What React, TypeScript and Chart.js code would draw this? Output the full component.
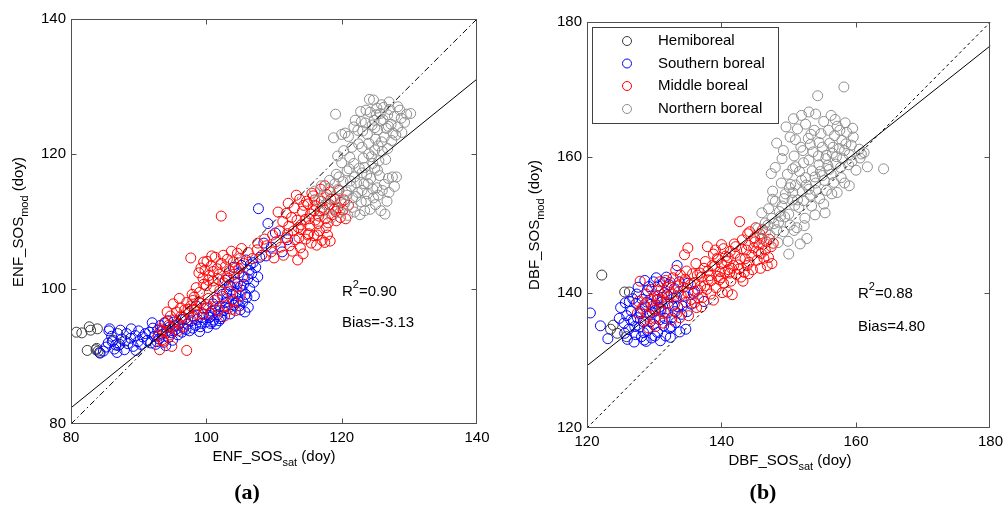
import React, { useEffect, useRef } from "react";
import { Chart, registerables } from "chart.js";
Chart.register(...registerables);

// ---------------- DATA ----------------
const SERIES_NAMES = ["Hemiboreal", "Southern boreal", "Middle boreal", "Northern boreal"];
const SERIES_COLORS = ["#3a3a3a", "#0000ff", "#ff0000", "#8e8e8e"];

const ENF_TICKS = [80, 100, 120, 140];
const DBF_TICKS = [120, 140, 160, 180];

const ENF_LINE_X = [80, 140];
const ENF_ONE_TO_ONE_Y = [80, 140];
const ENF_FIT_Y = [82.4, 131.1];
const DBF_LINE_X = [120, 180];
const DBF_ONE_TO_ONE_Y = [120, 180];
const DBF_FIT_Y = [129.2, 176.5];

const ENF_STATS = ["0.90", "-3.13"];
const DBF_STATS = ["0.88", "4.80"];

// flat [x, y, x, y, ...]
const ENF_HEMI = [
  80.8, 93.6, 81.6, 93.5, 82.7, 94.4, 82.9, 93.9, 83.9, 94.1, 82.4, 90.9, 83.7, 91.0,
  84.0, 90.8, 84.2, 90.6, 83.8, 91.2, 86.9, 93.4, 87.0, 91.6, 88.0, 92.3, 86.2, 92.4,
];

const ENF_SOUTH = [
  84.3, 90.5, 84.8, 90.8, 85.2, 91.4, 85.6, 93.8, 85.7, 94.1, 86.1, 92.2, 86.4, 91.1, 86.8, 90.6,
  87.2, 91.8, 87.5, 92.6, 87.9, 91.0, 88.2, 93.4, 88.4, 91.9, 88.8, 92.7, 89.2, 91.5, 89.5, 93.1,
  89.9, 92.2, 90.3, 91.8, 90.6, 92.9, 91.0, 93.4, 86.0, 93.0, 87.3, 93.9, 88.9, 94.1, 90.0, 93.8,
  85.5, 92.0, 86.6, 91.7, 89.6, 90.9,
  91.3, 92.4, 91.6, 93.6, 91.8, 92.0, 92.1, 94.2, 92.3, 93.0, 92.5, 91.8, 92.8, 93.9, 93.0, 92.6,
  93.2, 94.6, 93.5, 93.3, 93.7, 92.1, 93.9, 95.0, 94.1, 93.8, 94.4, 92.8, 94.6, 94.4, 94.9, 93.5,
  95.2, 95.1, 95.5, 94.0, 95.8, 93.2, 96.0, 94.8, 96.3, 95.5, 92.0, 95.0, 94.0, 91.6, 95.0, 92.4,
  96.6, 94.2, 96.9, 95.6, 97.2, 94.8, 97.5, 93.8, 97.8, 95.3, 98.1, 96.0, 98.4, 94.6, 98.7, 95.5,
  99.0, 93.7, 99.3, 94.9, 99.6, 96.3, 99.9, 95.1, 100.2, 94.3, 100.5, 95.8, 100.8, 96.7, 101.1, 95.4,
  101.4, 94.8, 101.7, 96.2, 102.0, 97.4, 102.3, 95.9, 102.6, 96.8, 102.9, 98.0, 103.2, 97.1, 103.5, 96.3,
  103.8, 98.5, 104.1, 97.6, 104.4, 99.3, 104.7, 98.2, 105.0, 96.9, 105.3, 99.8, 101.0, 97.8, 103.0, 99.5,
  100.0, 97.2, 98.5, 97.5, 101.6, 98.6, 102.4, 99.2, 103.4, 100.6, 100.6, 94.9, 101.9, 95.3, 99.4, 95.8,
  105.5, 100.7, 105.8, 99.2, 106.1, 101.5, 106.4, 100.1, 106.7, 102.3, 107.0, 101.0, 107.3, 103.2, 107.6, 101.8,
  104.2, 101.0, 104.8, 102.4, 105.2, 103.5, 105.9, 104.3, 106.5, 103.6, 103.6, 100.4, 104.0, 103.2, 102.8, 101.3,
  107.9, 104.7, 106.2, 97.3, 105.7, 96.6, 107.1, 99.0, 104.6, 100.8, 105.4, 98.1, 106.0, 98.8, 104.9, 97.5,
  107.7, 111.9, 109.1, 109.7, 110.2, 108.3, 108.5, 106.8, 111.2, 105.5, 109.6, 106.2, 112.0, 107.3, 108.8, 104.9,
];
const ENF_SOUTH_B = [
  92.7, 92.2, 93.4, 93.8, 94.3, 95.3, 95.4, 94.6, 96.4, 93.6, 97.0, 94.0, 98.0, 94.2, 99.1, 94.4,
  100.9, 95.1, 101.3, 96.9, 102.1, 95.6, 102.8, 97.3, 103.9, 99.2, 104.4, 98.0, 105.1, 100.4, 105.6, 101.8,
  106.3, 102.8, 106.9, 103.9, 103.1, 98.6, 100.4, 96.1,
];

const ENF_MIDDLE = [
  92.9, 93.0, 93.2, 94.1, 93.5, 92.5, 93.8, 95.0, 94.1, 93.6, 94.4, 94.6, 94.7, 96.0, 95.0, 94.3,
  95.3, 95.4, 95.6, 96.6, 95.9, 94.9, 96.2, 97.2, 96.5, 95.8, 96.8, 96.9, 97.1, 98.0, 97.4, 96.4,
  97.7, 97.5, 98.0, 95.8, 98.3, 97.0, 98.6, 96.2, 93.1, 91.0, 97.1, 90.9, 94.2, 96.6, 95.1, 97.8,
  96.0, 98.6, 94.9, 91.5, 93.6, 93.8, 96.6, 94.4, 97.9, 99.2, 99.2, 97.9,
  97.7, 104.6, 98.9, 102.4, 99.2, 103.1, 99.5, 101.6, 99.8, 102.8, 100.1, 104.1, 100.4, 102.0, 100.7, 103.4,
  101.0, 102.6, 101.3, 104.7, 101.6, 103.0, 101.9, 102.2, 102.2, 103.8, 102.5, 105.0, 102.8, 103.3, 103.1, 104.4,
  103.4, 102.7, 103.7, 105.6, 104.0, 104.0, 104.3, 103.1, 104.6, 105.3, 104.9, 104.5, 105.2, 106.0, 105.5, 103.8,
  99.0, 99.5, 98.5, 100.2, 98.2, 98.8, 100.0, 100.5, 102.2, 110.8, 106.2, 105.4, 101.0, 101.2, 103.0, 101.8,
  99.5, 96.2, 100.0, 97.7, 100.6, 96.4, 101.2, 98.3, 101.8, 96.8, 102.4, 98.9, 103.0, 97.5, 103.5, 99.6,
  104.0, 98.2, 104.5, 100.3, 105.0, 99.0, 103.8, 97.0, 102.7, 96.0, 101.5, 97.4, 104.3, 96.8, 102.0, 99.8,
  106.8, 104.5, 107.5, 105.8, 108.2, 105.0, 108.9, 106.4, 109.6, 105.5, 110.3, 107.0, 111.0, 106.2, 111.4, 105.0,
  111.8, 107.6, 112.3, 106.4, 112.7, 105.6, 113.1, 107.3, 113.5, 104.3, 113.9, 106.1, 114.3, 105.2, 110.0, 104.6,
  114.7, 107.4, 115.1, 108.2, 115.5, 106.8, 115.9, 107.9, 116.3, 106.5, 116.7, 108.6, 117.1, 107.2, 117.5, 106.9,
  117.9, 108.0, 118.3, 107.1, 114.0, 108.8, 115.3, 109.4, 116.5, 109.7, 117.7, 109.1,
  111.3, 110.0, 111.8, 111.2, 112.2, 109.3, 112.6, 110.6, 113.0, 112.0, 113.4, 110.2, 113.8, 113.3, 114.2, 111.5,
  114.6, 110.3, 115.0, 112.6, 115.4, 111.1, 115.8, 113.8, 116.2, 112.3, 116.6, 110.8, 117.0, 113.0, 117.4, 111.7,
  117.8, 114.0, 118.2, 112.5, 118.6, 111.0, 119.0, 113.3, 119.4, 112.0, 119.8, 110.6, 120.2, 111.7, 120.6, 110.4,
  116.9, 114.8, 118.3, 114.4, 115.6, 114.2, 113.3, 113.9, 112.1, 112.7, 110.6, 111.4, 114.0, 109.5, 116.1, 110.2,
  117.5, 115.3, 119.2, 110.1, 121.0, 112.4, 118.9, 111.8, 117.2, 112.1, 115.9, 111.6, 114.8, 113.0, 119.6, 114.6,
];
const ENF_MIDDLE_B = [
  112.9, 108.6, 113.6, 109.1, 114.4, 112.4, 115.2, 110.4, 116.0, 113.2, 116.8, 111.6, 117.6, 110.4, 118.4, 113.3,
  119.1, 111.5, 119.9, 112.8, 120.4, 113.2, 118.0, 109.8, 116.4, 108.0, 115.0, 108.0, 113.7, 107.6, 112.0, 108.2,
  110.8, 108.6, 109.8, 108.0, 108.6, 107.4, 107.6, 106.8,
  99.6, 100.7, 100.3, 101.3, 101.1, 100.2, 101.8, 101.4, 102.6, 100.9, 103.3, 101.6, 104.1, 102.2, 104.8, 103.0,
  105.4, 101.9, 100.8, 104.9, 99.6, 104.0,
  93.6, 92.3, 94.6, 93.2, 95.8, 93.8, 96.3, 96.0, 97.3, 97.0, 98.0, 98.3, 98.9, 98.0, 99.6, 97.1, 100.3, 98.6,
];

const ENF_NORTH = [
  119.1, 125.9, 120.0, 122.9, 120.5, 123.1, 121.0, 122.6, 121.8, 124.0, 122.4, 123.5, 123.0, 121.0, 123.5, 124.6,
  124.1, 128.1, 124.7, 128.0, 124.2, 126.2, 124.8, 125.0, 125.3, 123.6, 125.8, 124.9, 126.3, 122.5, 126.8, 125.8,
  127.3, 124.4, 127.8, 125.6, 128.3, 124.0, 128.8, 125.3, 129.3, 124.7, 130.2, 126.0, 125.0, 122.2, 124.0, 120.0,
  125.5, 119.0, 124.6, 118.6, 126.0, 120.4, 123.4, 118.0, 122.5, 121.5, 121.2, 119.5, 120.0, 118.7, 120.8, 117.5,
  123.8, 122.9, 126.6, 123.8, 127.1, 126.6, 125.9, 127.3, 122.8, 126.3, 125.4, 121.2, 126.5, 119.2, 124.4, 119.6,
  127.6, 123.1, 128.6, 126.5, 125.2, 126.8, 126.1, 125.1, 123.1, 123.4, 124.9, 123.9,
  116.0, 114.5, 117.0, 115.3, 118.2, 116.1, 118.8, 113.5, 119.5, 114.8, 120.2, 115.9, 120.8, 113.9, 121.4, 115.2,
  121.9, 116.6, 122.4, 114.3, 122.9, 112.9, 123.3, 115.6, 123.8, 114.1, 124.3, 116.4, 124.7, 113.5, 125.2, 115.0,
  125.6, 116.8, 126.0, 114.6, 126.4, 111.1, 126.9, 116.4, 127.5, 116.6, 128.1, 116.6, 121.6, 112.1, 120.4, 112.6,
  119.7, 111.3, 122.7, 111.0, 124.2, 111.8, 125.0, 112.5, 123.0, 117.2, 121.1, 117.8, 119.2, 117.0, 117.6, 112.5,
  118.5, 110.6, 124.9, 117.9, 123.6, 113.0, 122.1, 113.7,
];
const ENF_NORTH_B = [
  121.5, 121.0, 122.0, 125.0, 122.9, 124.8, 123.6, 126.5, 124.5, 124.3, 125.1, 125.8, 125.7, 126.0, 126.2, 126.9,
  126.9, 124.1, 127.4, 122.0, 128.0, 122.8, 128.9, 123.2, 129.6, 125.9, 128.3, 127.0, 127.0, 127.7, 123.2, 119.4,
  124.0, 121.6, 124.9, 120.6, 125.9, 121.8, 126.8, 120.8, 125.3, 117.6, 123.7, 116.9, 122.6, 117.9, 121.8, 118.6,
  120.3, 120.5, 119.4, 119.7, 118.8, 122.4,
  117.3, 113.8, 118.1, 114.9, 119.0, 115.6, 119.9, 113.0, 120.7, 114.4, 121.6, 113.5, 122.2, 115.7, 123.0, 114.6,
  123.9, 115.6, 124.6, 114.8, 125.4, 113.9, 126.3, 115.5, 127.0, 114.3, 127.8, 115.2, 126.7, 113.0, 125.8, 111.6,
  123.4, 111.6, 121.9, 111.4, 120.9, 110.9, 118.6, 112.2, 117.0, 111.4, 116.6, 113.1, 119.6, 116.6, 121.3, 116.0,
];

const DBF_HEMI = [
  122.2, 142.6, 125.6, 140.1, 126.3, 140.1, 123.9, 135.2, 123.5, 134.6, 125.9, 133.5, 124.5, 134.0,
];

const DBF_SOUTH = [
  120.5, 137.0, 122.0, 135.1, 123.1, 133.2, 133.4, 144.0, 137.4, 138.7,
  125.0, 137.8, 125.5, 135.5, 125.9, 136.6, 126.2, 134.6, 126.6, 137.3, 126.9, 135.9, 127.2, 133.8, 127.5, 136.3,
  127.8, 134.9, 128.1, 133.5, 128.4, 135.7, 128.7, 137.9, 129.0, 134.4, 129.3, 136.8, 129.6, 133.3, 129.9, 135.3,
  130.2, 137.4, 130.5, 134.1, 130.8, 136.0, 131.1, 138.6, 131.4, 135.1, 131.7, 133.6, 132.0, 137.0, 132.3, 134.7,
  132.6, 136.3, 132.9, 139.2, 133.2, 135.6, 133.5, 137.9, 133.8, 134.2, 134.1, 136.8, 130.0, 139.5, 129.0, 140.3,
  130.6, 141.0, 131.5, 140.0, 128.2, 139.0, 127.4, 139.8, 132.2, 141.2, 133.0, 140.6, 134.5, 139.5, 135.0, 141.4,
  135.5, 138.3, 136.0, 140.2, 128.8, 132.8, 130.9, 132.9, 127.0, 132.7, 126.0, 133.1, 129.5, 138.3, 131.2, 139.3,
  128.6, 141.8, 130.3, 142.2, 126.3, 138.7, 127.9, 137.2, 127.3, 138.4, 128.0, 136.9, 128.9, 138.6, 129.7, 137.1,
  130.4, 139.0, 131.0, 137.6, 131.9, 139.7, 132.7, 138.0, 133.3, 139.4, 134.2, 138.0, 126.8, 139.1, 129.2, 140.9,
  131.4, 141.5, 133.7, 141.6, 134.9, 137.2, 135.8, 139.9, 124.8, 136.2, 125.6, 134.0, 132.4, 133.4, 134.7, 134.6,
];
const DBF_SOUTH_B = [
  127.1, 135.0, 128.4, 134.1, 129.4, 135.7, 130.1, 133.6, 130.7, 137.8, 131.6, 136.2, 132.5, 135.0, 133.1, 137.2,
  126.5, 136.0, 127.6, 140.8, 129.9, 141.6, 131.8, 142.3, 128.5, 133.0, 125.7, 138.5,
];

const DBF_MIDDLE = [
  127.5, 137.0, 127.9, 141.7, 128.5, 138.2, 129.0, 136.5, 129.5, 139.0, 130.0, 137.4, 130.5, 138.9, 131.0, 137.2,
  131.5, 140.0, 132.0, 138.5, 132.5, 139.8, 133.0, 138.2, 133.5, 141.0, 134.0, 139.6, 134.5, 141.6, 135.0, 140.0,
  135.5, 139.0, 136.0, 141.5, 136.5, 140.4, 137.0, 142.3, 137.5, 141.0, 138.0, 143.2, 138.5, 141.8, 139.0, 143.9,
  139.5, 142.4, 140.0, 144.3, 140.5, 143.0, 141.0, 145.2, 141.5, 143.6, 142.0, 145.8, 142.5, 144.1, 143.0, 146.5,
  143.5, 145.0, 144.0, 147.0, 144.5, 145.5, 145.0, 147.5, 145.5, 146.0, 146.0, 148.0, 146.5, 146.3, 147.0, 145.2,
  147.5, 144.3, 146.8, 144.0, 145.8, 143.6, 144.6, 143.4, 143.4, 143.0, 142.2, 142.7, 141.4, 141.7, 140.9, 140.1,
  140.3, 141.4, 139.2, 140.7, 138.4, 139.8, 137.2, 139.3, 136.3, 137.8, 135.1, 136.6, 133.8, 136.3, 132.6, 136.0,
  131.3, 135.5, 130.2, 135.0, 129.1, 134.8,
  135.0, 146.6, 137.9, 146.8, 142.7, 150.5, 139.5, 144.9, 134.5, 145.6, 136.2, 144.3, 140.3, 146.5, 141.9, 147.2,
  143.9, 148.7, 145.1, 149.6, 144.2, 149.0, 131.7, 141.8, 130.6, 140.4, 133.9, 142.6, 136.8, 142.9, 138.8, 145.7,
  147.1, 147.9, 146.1, 149.3, 132.4, 141.5, 134.8, 143.2, 141.6, 139.7, 142.9, 142.3,
  129.6, 140.5, 130.8, 141.6, 131.9, 140.8, 132.8, 142.2, 133.6, 140.1, 134.6, 142.0, 135.4, 141.2, 136.4, 142.6,
  137.4, 143.6, 138.2, 142.5, 139.8, 143.1, 140.8, 144.6, 141.8, 144.0, 142.8, 145.0, 143.7, 146.3, 144.8, 146.6,
  145.6, 147.1, 146.3, 145.1, 147.4, 146.8, 128.2, 137.7, 130.1, 136.2, 131.1, 138.9, 133.4, 137.0, 134.7, 138.6,
  136.6, 139.2, 137.8, 140.5, 139.7, 141.9, 141.2, 142.9, 142.6, 143.5, 144.1, 144.5, 145.3, 144.8, 140.0, 147.1,
  139.1, 146.3,
];
const DBF_MIDDLE_B = [
  137.6, 144.6, 138.6, 144.0, 139.4, 145.1, 140.6, 145.4, 141.3, 146.1, 142.1, 146.8, 143.1, 147.8, 143.8, 144.0,
  144.9, 148.1, 145.7, 148.7, 146.7, 147.5, 147.7, 147.3, 143.2, 141.7, 141.0, 143.4, 139.9, 142.2, 138.0, 141.9,
  136.9, 141.0, 135.7, 142.8, 134.3, 140.8, 133.2, 143.3, 132.1, 139.4, 131.5, 137.1, 130.5, 139.5, 129.8, 138.0,
  128.8, 139.8, 127.6, 138.7, 128.6, 135.8, 136.0, 138.5, 137.0, 137.9, 138.8, 138.9, 140.1, 140.0, 144.0, 142.8,
  145.9, 145.8,
];

const DBF_NORTH = [
  146.0, 151.8, 146.5, 150.3, 147.0, 152.4, 147.5, 151.0, 148.0, 153.5, 148.5, 150.4, 149.0, 152.8, 149.5, 154.6,
  150.0, 151.6, 150.5, 153.7, 151.0, 155.9, 151.5, 152.6, 152.0, 154.9, 152.5, 157.0, 153.0, 155.3, 153.5, 158.0,
  154.0, 156.2, 154.5, 158.9, 155.0, 157.3, 155.5, 159.8, 156.0, 158.2, 156.5, 160.6, 157.0, 159.0, 157.5, 161.3,
  158.0, 159.8, 158.5, 162.0, 159.0, 160.4, 148.2, 162.1, 149.6, 164.5, 150.7, 165.7, 153.0, 166.7, 156.3, 166.2,
  154.3, 169.1, 158.2, 170.4, 164.1, 158.3, 161.7, 158.6, 159.0, 155.8, 150.0, 145.7, 152.7, 148.0, 150.8, 160.2,
  151.8, 161.5, 152.9, 162.8, 154.8, 163.5, 155.9, 164.0, 157.2, 164.6, 158.4, 165.1, 156.1, 162.1, 153.6, 160.8,
  152.2, 159.2, 149.8, 157.5, 148.9, 156.2, 147.6, 155.0, 149.2, 149.0, 151.2, 149.6, 152.4, 151.0, 153.4, 152.8,
  154.6, 153.9, 155.6, 155.1, 156.7, 156.3, 157.8, 157.0, 145.8, 147.9, 147.2, 148.5, 148.4, 147.4, 151.7, 147.2,
  160.0, 158.1, 160.5, 161.2, 159.6, 163.0, 147.4, 157.6, 150.6, 158.3, 150.2, 163.0, 151.3, 164.2, 152.5, 164.9,
  153.8, 164.0, 155.2, 165.3, 156.8, 163.2, 157.9, 162.5, 159.3, 161.8, 160.8, 160.5, 155.0, 161.5, 153.2, 161.9,
  151.0, 162.6, 154.0, 166.4, 149.0, 159.8, 150.3, 156.0, 151.6, 157.9, 153.0, 159.6, 154.4, 160.2, 156.6, 161.5,
  158.6, 163.7, 148.8, 151.3, 150.9, 152.9, 152.2, 153.6, 154.0, 155.1, 155.2, 153.1, 156.4, 154.6, 146.9, 150.0,
];
const DBF_NORTH_B = [
  147.8, 150.2, 148.6, 152.0, 149.4, 151.2, 150.2, 150.0, 150.6, 154.8, 151.3, 153.7, 151.9, 156.6, 152.6, 155.9,
  153.2, 154.4, 153.9, 157.1, 154.7, 157.9, 155.3, 156.6, 155.8, 158.8, 156.3, 157.5, 157.1, 160.1, 157.7, 158.5,
  158.3, 161.0, 158.9, 158.9, 159.4, 159.4, 149.3, 153.9, 150.1, 155.5, 151.0, 158.6, 152.1, 161.0, 153.3, 163.4,
  154.5, 162.2, 155.6, 160.3, 156.9, 165.6, 157.6, 164.0, 159.5, 164.3, 151.9, 166.2, 149.2, 161.0, 148.0, 158.5,
  147.6, 153.8, 146.6, 149.0, 149.9, 147.6, 150.8, 149.2, 152.3, 149.9, 153.9, 151.5, 155.4, 151.8, 157.2, 154.8,
  158.3, 156.2, 160.6, 159.9, 161.2, 160.7, 145.4, 149.5, 148.2, 149.3,
];

// ---------------- HELPERS ----------------
const FONT = '"Liberation Sans", Arial, sans-serif';
type Part = { t: string; sub?: boolean; sup?: boolean };

function pairs(a: number[]) {
  const out: { x: number; y: number }[] = [];
  for (let i = 0; i + 1 < a.length; i += 2) out.push({ x: a[i], y: a[i + 1] });
  return out;
}
function linePts(xs: number[], ys: number[]) {
  return xs.map((x, i) => ({ x, y: ys[i] }));
}

function drawRich(ctx: CanvasRenderingContext2D, parts: Part[], x: number, y: number, size: number, align: "center" | "left") {
  const small = Math.round(size * 0.72);
  const widths = parts.map((p) => {
    ctx.font = `${p.sub || p.sup ? small : size}px ${FONT}`;
    return ctx.measureText(p.t).width;
  });
  const total = widths.reduce((a, b) => a + b, 0);
  let cx = align === "center" ? x - total / 2 : x;
  ctx.textAlign = "left";
  ctx.textBaseline = "middle";
  parts.forEach((p, i) => {
    ctx.font = `${p.sub || p.sup ? small : size}px ${FONT}`;
    const dy = p.sub ? 6 : p.sup ? -7 : 0;
    ctx.fillText(p.t, cx, y + dy);
    cx += widths[i];
  });
}

const decorPlugin = {
  id: "decor",
  afterDraw(chart: any, _args: any, o: any) {
    const { ctx, chartArea: ca, scales } = chart;
    ctx.save();
    const L = Math.round(ca.left) + 0.5, R = Math.round(ca.right) - 0.5;
    const T = Math.round(ca.top) + 0.5, B = Math.round(ca.bottom) - 0.5;
    ctx.strokeStyle = "#505050";
    ctx.lineWidth = 1;
    ctx.setLineDash([]);
    ctx.strokeRect(L, T, R - L, B - T);
    ctx.beginPath();
    const tk: number[] = o.ticks;
    tk.slice(1, -1).forEach((v: number) => {
      const px = Math.round(scales.x.getPixelForValue(v)) + 0.5;
      ctx.moveTo(px, B); ctx.lineTo(px, B - 5);
      ctx.moveTo(px, T); ctx.lineTo(px, T + 5);
      const py = Math.round(scales.y.getPixelForValue(v)) + 0.5;
      ctx.moveTo(L, py); ctx.lineTo(L + 5, py);
      ctx.moveTo(R, py); ctx.lineTo(R - 5, py);
    });
    ctx.stroke();

    ctx.fillStyle = "#000";
    drawRich(ctx, o.xTitle, o.xTitlePos[0], o.xTitlePos[1], 15, "center");
    ctx.save();
    ctx.translate(o.yTitlePos[0], o.yTitlePos[1]);
    ctx.rotate(-Math.PI / 2);
    drawRich(ctx, o.yTitle, 0, 0, 15, "center");
    ctx.restore();
    drawRich(ctx, [{ t: "R" }, { t: "2", sup: true }, { t: "=" + o.stats[0] }], o.statsPos[0], o.statsPos[1], 15, "left");
    drawRich(ctx, [{ t: "Bias=" + o.stats[1] }], o.statsPos[0], o.statsPos[2], 15, "left");
    ctx.font = `bold 22px "Liberation Serif", "Times New Roman", serif`;
    ctx.textAlign = "center";
    ctx.textBaseline = "middle";
    ctx.fillText(o.panel, o.panelPos[0], o.panelPos[1]);

    if (o.legend) {
      const [lx, ly, lw, lh] = o.legend.box;
      ctx.fillStyle = "#fff";
      ctx.fillRect(lx, ly, lw, lh);
      ctx.strokeStyle = "#404040";
      ctx.strokeRect(lx + 0.5, ly + 0.5, lw, lh);
      SERIES_NAMES.forEach((name, i) => {
        const ry = o.legend.rows[i];
        ctx.beginPath();
        ctx.strokeStyle = SERIES_COLORS[i];
        ctx.arc(o.legend.markerX, ry, 4.5, 0, Math.PI * 2);
        ctx.stroke();
        ctx.fillStyle = "#000";
        ctx.font = `15px ${FONT}`;
        ctx.textAlign = "left";
        ctx.textBaseline = "middle";
        ctx.fillText(name, o.legend.textX, ry);
      });
    }
    ctx.restore();
  },
};

type PanelCfg = {
  width: number; height: number;
  area: { left: number; right: number; top: number; bottom: number };
  ticks: number[];
  series: number[][];
  lineX: number[]; oneY: number[]; fitY: number[]; oneDash: number[];
  decor: any;
};

function Panel({ cfg, left }: { cfg: PanelCfg; left: number }) {
  const ref = useRef<HTMLCanvasElement | null>(null);
  useEffect(() => {
    if (!ref.current) return;
    const { width: W, height: H, area, ticks } = cfg;
    const scatterSets = cfg.series.map((s, i) => ({
      label: SERIES_NAMES[i],
      data: pairs(s),
      borderColor: SERIES_COLORS[i],
      backgroundColor: "rgba(0,0,0,0)",
      pointRadius: 5,
      pointBorderWidth: 1,
      pointHoverRadius: 5,
      order: 4 - i,
    }));
    const lines = [
      { label: "1:1", data: linePts(cfg.lineX, cfg.oneY), borderDash: cfg.oneDash, order: 0 },
      { label: "fit", data: linePts(cfg.lineX, cfg.fitY), borderDash: [], order: 0 },
    ].map((d) => ({
      ...d, showLine: true, pointRadius: 0, borderColor: "#000", borderWidth: 1,
      backgroundColor: "#000", fill: false,
    }));
    const tickOpts = { padding: 5, color: "#000", font: { family: FONT, size: 15 }, autoSkip: false, maxRotation: 0 };
    const chart = new Chart(ref.current, {
      type: "scatter",
      data: { datasets: [...lines, ...scatterSets] as any },
      options: {
        responsive: false,
        animation: false,
        devicePixelRatio: 1,
        events: [],
        layout: { padding: { left: 0, top: area.top, right: W - area.right, bottom: 0 } },
        plugins: { legend: { display: false }, tooltip: { enabled: false }, decor: cfg.decor } as any,
        scales: {
          x: {
            type: "linear", min: ticks[0], max: ticks[ticks.length - 1],
            afterBuildTicks: (s: any) => { s.ticks = ticks.map((v) => ({ value: v })); },
            afterFit: (s: any) => { s.height = H - area.bottom; },
            grid: { display: false, drawTicks: false }, border: { display: false },
            ticks: tickOpts,
          },
          y: {
            type: "linear", min: ticks[0], max: ticks[ticks.length - 1],
            afterBuildTicks: (s: any) => { s.ticks = ticks.map((v) => ({ value: v })); },
            afterFit: (s: any) => { s.width = area.left; },
            grid: { display: false, drawTicks: false }, border: { display: false },
            ticks: tickOpts,
          },
        },
      } as any,
      plugins: [decorPlugin as any],
    });
    return () => chart.destroy();
  }, [cfg]);
  return (
    <canvas
      ref={ref}
      width={cfg.width}
      height={cfg.height}
      style={{ position: "absolute", left, top: 0, width: cfg.width, height: cfg.height }}
    />
  );
}

const ENF_CFG: PanelCfg = {
  width: 504, height: 506,
  area: { left: 71, right: 477, top: 19, bottom: 424 },
  ticks: ENF_TICKS,
  series: [ENF_HEMI, ENF_SOUTH.concat(ENF_SOUTH_B), ENF_MIDDLE.concat(ENF_MIDDLE_B), ENF_NORTH.concat(ENF_NORTH_B)],
  lineX: ENF_LINE_X, oneY: ENF_ONE_TO_ONE_Y, fitY: ENF_FIT_Y, oneDash: [6, 3, 1.5, 3],
  decor: {
    ticks: ENF_TICKS,
    xTitle: [{ t: "ENF_SOS" }, { t: "sat", sub: true }, { t: " (doy)" }],
    xTitlePos: [274, 457],
    yTitle: [{ t: "ENF_SOS" }, { t: "mod", sub: true }, { t: " (doy)" }],
    yTitlePos: [19, 222],
    stats: ENF_STATS,
    statsPos: [342, 292, 323],
    panel: "(a)",
    panelPos: [247, 493],
  },
};

const DBF_CFG: PanelCfg = {
  width: 504, height: 506,
  area: { left: 83, right: 489, top: 22, bottom: 428 },
  ticks: DBF_TICKS,
  series: [DBF_HEMI, DBF_SOUTH.concat(DBF_SOUTH_B), DBF_MIDDLE.concat(DBF_MIDDLE_B), DBF_NORTH.concat(DBF_NORTH_B)],
  lineX: DBF_LINE_X, oneY: DBF_ONE_TO_ONE_Y, fitY: DBF_FIT_Y, oneDash: [3, 3],
  decor: {
    ticks: DBF_TICKS,
    xTitle: [{ t: "DBF_SOS" }, { t: "sat", sub: true }, { t: " (doy)" }],
    xTitlePos: [286, 461],
    yTitle: [{ t: "DBF_SOS" }, { t: "mod", sub: true }, { t: " (doy)" }],
    yTitlePos: [31, 225],
    stats: DBF_STATS,
    statsPos: [354, 294, 327],
    panel: "(b)",
    panelPos: [259, 493],
    legend: { box: [88, 27, 186, 96], rows: [41, 63.5, 86, 109], markerX: 123, textX: 154 },
  },
};

export default function App() {
  return (
    <div style={{ position: "absolute", left: 0, top: 0, width: 1008, height: 506, background: "#fff" }}>
      <Panel cfg={ENF_CFG} left={0} />
      <Panel cfg={DBF_CFG} left={504} />
    </div>
  );
}
